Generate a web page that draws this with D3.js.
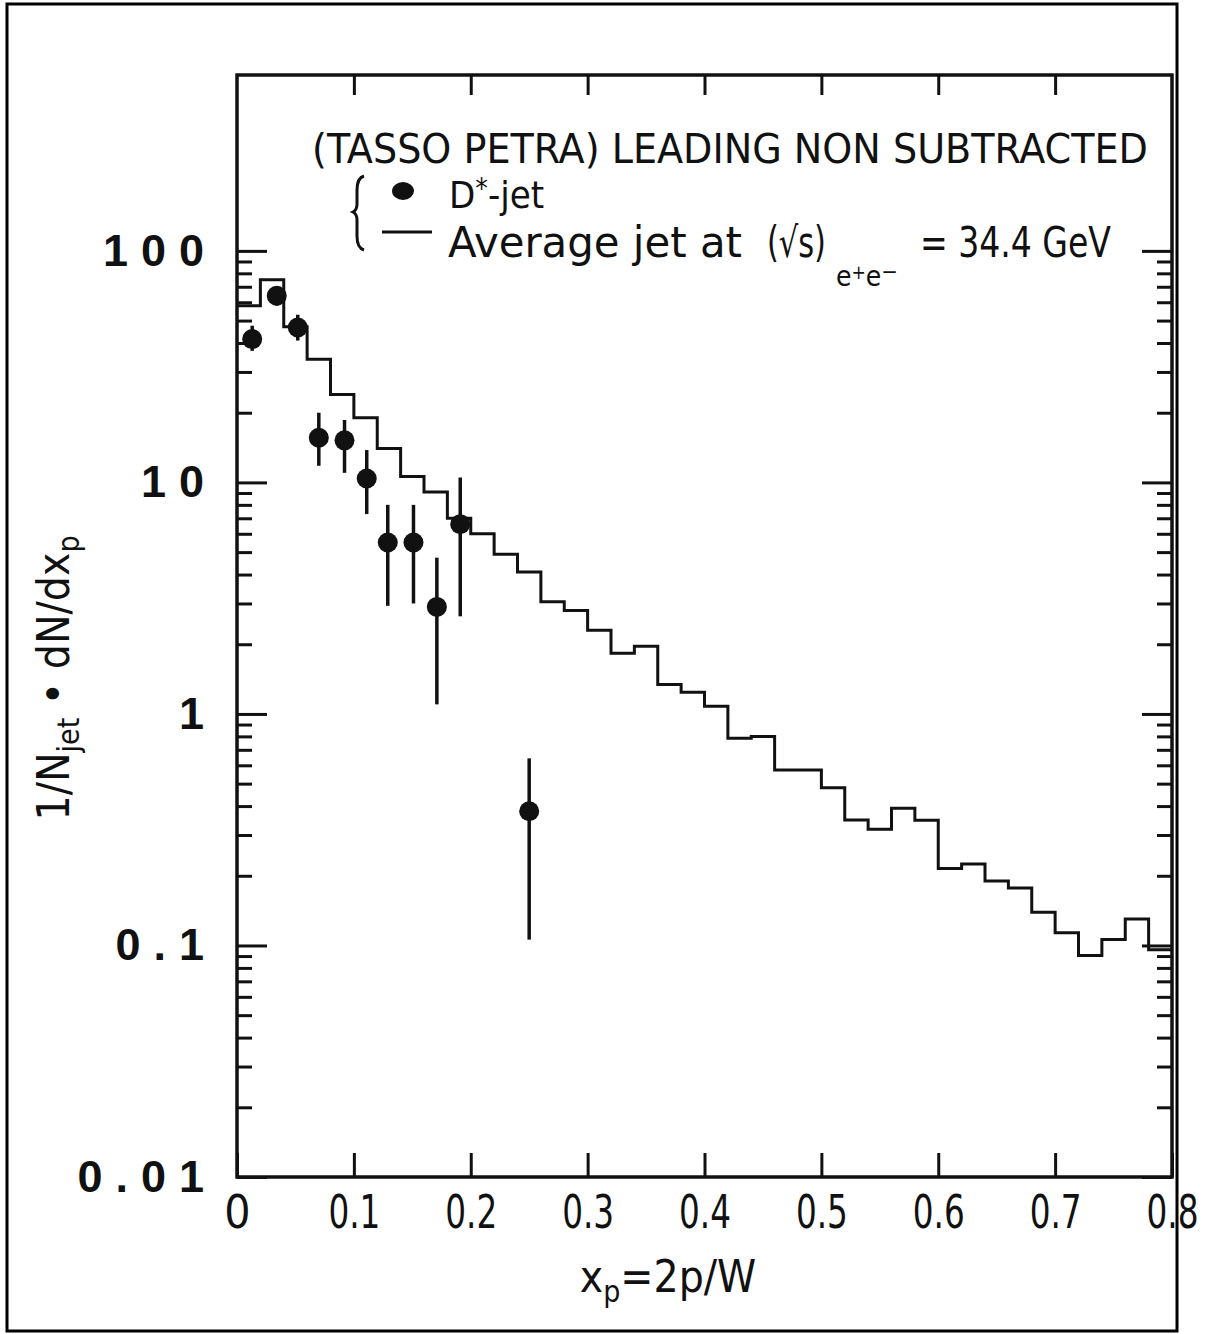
<!DOCTYPE html>
<html lang="en">
<head>
<meta charset="UTF-8">
<title>D* jet fragmentation (TASSO)</title>
<style>
  body { margin: 0; background: #fff; }
  text { fill: #111; }
</style>
</head>
<body>
<svg id="chart" width="1209" height="1334"></svg>
<script src="https://d3js.org/d3.v7.min.js"></script>
<script>
// average jet, histogram in bins of x_p
const binEdges = [0, 0.02, 0.04, 0.06, 0.08, 0.10, 0.12, 0.14, 0.16, 0.18,
                  0.20, 0.22, 0.24, 0.26, 0.28, 0.30, 0.32, 0.34, 0.36, 0.38,
                  0.40, 0.42, 0.44, 0.46, 0.48, 0.50, 0.52, 0.54, 0.56, 0.58,
                  0.60, 0.62, 0.64, 0.66, 0.68, 0.70, 0.72, 0.74, 0.76, 0.78, 0.80];
const avgJet = [58, 75, 47, 34, 24, 19, 14, 10.6, 9.1, 7.0,
                6.0, 4.9, 4.1, 3.05, 2.8, 2.3, 1.83, 1.96, 1.34, 1.24,
                1.08, 0.785, 0.80, 0.573, 0.573, 0.48, 0.348, 0.318, 0.391, 0.347,
                0.215, 0.225, 0.19, 0.177, 0.139, 0.1135, 0.0905, 0.106, 0.130, 0.0958];

// D*-jet points
const dstarX  = [0.013, 0.034, 0.052, 0.070, 0.092, 0.111, 0.129, 0.151, 0.171, 0.191, 0.250];
const dstarY  = [41.6, 64, 46.7, 15.6, 15.2, 10.4, 5.5, 5.5, 2.9, 6.6, 0.38];
const dstarLo = [37, 58, 41, 11.8, 11.0, 7.3, 2.93, 3.0, 1.1, 2.64, 0.106];
const dstarHi = [47.5, 70, 53, 20, 18.6, 13.8, 8.0, 8.0, 4.73, 10.5, 0.643];

// axes
const xTicks = [0, 0.1, 0.2, 0.3, 0.4, 0.5, 0.6, 0.7, 0.8];
const xTickLabels = ["0", "0.1", "0.2", "0.3", "0.4", "0.5", "0.6", "0.7", "0.8"];
const yMajor = [0.01, 0.1, 1, 10, 100];
const yMajorLabels = ["0.01", "0.1", "1", "10", "100"];

const svg = d3.select("#chart");
const pLeft = 237, pRight = 1172, pTop = 75, pBottom = 1177;
const condensed = "'DejaVu Sans Condensed', 'Liberation Sans Narrow', 'DejaVu Sans', sans-serif";

const x = d3.scaleLinear().domain([0, 0.8]).range([pLeft, pRight]);
const y = d3.scaleLog().domain([0.01, 575]).range([pBottom, pTop]);

// outer frame of the figure
svg.append("rect")
  .attr("x", 7).attr("y", 4).attr("width", 1170).attr("height", 1327)
  .attr("fill", "none").attr("stroke", "#000").attr("stroke-width", 3);

const yMinor = y.ticks().filter(d => d <= 100 && !yMajor.includes(d));
const xInner = xTicks.slice(1, -1);

function styleAxis(g) {
  g.select(".domain").remove();
  g.selectAll(".tick line").attr("stroke", "#111").attr("stroke-width", 3);
}

// left
svg.append("g").attr("transform", `translate(${pLeft},0)`)
  .call(d3.axisLeft(y).tickValues(yMinor).tickSizeInner(-15).tickSizeOuter(0).tickFormat(""))
  .call(styleAxis);
const yl = svg.append("g").attr("transform", `translate(${pLeft},0)`)
  .call(d3.axisLeft(y).tickValues(yMajor).tickSizeInner(-30).tickSizeOuter(0)
        .tickPadding(20).tickFormat((d, i) => yMajorLabels[i]))
  .call(styleAxis);
yl.selectAll("text")
  .attr("font-family", "'Liberation Sans', Arial, sans-serif")
  .attr("font-weight", "bold").attr("font-size", 45)
  .attr("letter-spacing", 13).attr("fill", "#111");

// right
svg.append("g").attr("transform", `translate(${pRight},0)`)
  .call(d3.axisRight(y).tickValues(yMinor).tickSizeInner(-15).tickSizeOuter(0).tickFormat(""))
  .call(styleAxis);
svg.append("g").attr("transform", `translate(${pRight},0)`)
  .call(d3.axisRight(y).tickValues(yMajor).tickSizeInner(-30).tickSizeOuter(0).tickFormat(""))
  .call(styleAxis);

// top
svg.append("g").attr("transform", `translate(0,${pTop})`)
  .call(d3.axisTop(x).tickValues(xInner).tickSizeInner(-20).tickSizeOuter(0).tickFormat(""))
  .call(styleAxis);

// bottom
const xb = svg.append("g").attr("transform", `translate(0,${pBottom})`)
  .call(d3.axisBottom(x).tickValues(xTicks).tickSizeInner(-24).tickSizeOuter(0)
        .tickPadding(18).tickFormat((d, i) => xTickLabels[i]))
  .call(styleAxis);
xb.selectAll("text")
  .attr("font-family", condensed).attr("font-size", 46).attr("fill", "#111")
  .filter((d, i) => xTickLabels[i].length > 1)
  .attr("textLength", 52).attr("lengthAdjust", "spacingAndGlyphs");

// plot frame
svg.append("rect")
  .attr("x", pLeft).attr("y", pTop).attr("width", pRight - pLeft).attr("height", pBottom - pTop)
  .attr("fill", "none").attr("stroke", "#111").attr("stroke-width", 3.5);

// histogram
const histPts = binEdges.map((e, i) => [e, avgJet[Math.min(i, avgJet.length - 1)]]);
svg.append("path")
  .datum(histPts)
  .attr("fill", "none").attr("stroke", "#111").attr("stroke-width", 3)
  .attr("d", d3.line().x(d => x(d[0])).y(d => y(d[1])).curve(d3.curveStepAfter));

// D* points
const pts = dstarX.map((v, i) => ({ x: v, y: dstarY[i], lo: dstarLo[i], hi: dstarHi[i] }));
svg.append("g").selectAll("line")
  .data(pts).join("line")
  .attr("x1", d => x(d.x)).attr("x2", d => x(d.x))
  .attr("y1", d => y(d.lo)).attr("y2", d => y(d.hi))
  .attr("stroke", "#111").attr("stroke-width", 3.5);
svg.append("g").selectAll("circle")
  .data(pts).join("circle")
  .attr("cx", d => x(d.x)).attr("cy", d => y(d.y)).attr("r", 10)
  .attr("fill", "#111");

// title and legend
svg.append("text")
  .attr("x", 312).attr("y", 163)
  .attr("font-family", condensed).attr("font-size", 41)
  .attr("textLength", 836).attr("lengthAdjust", "spacingAndGlyphs")
  .text("(TASSO PETRA) LEADING NON SUBTRACTED");

svg.append("path")
  .attr("d", "M364,176 Q357,178 357,190 L357,204 Q357,210 353,212 Q357,214 357,220 L357,236 Q357,248 364,250")
  .attr("fill", "none").attr("stroke", "#111").attr("stroke-width", 3);

svg.append("ellipse").attr("cx", 403).attr("cy", 191).attr("rx", 11).attr("ry", 9).attr("fill", "#111");
const dj = svg.append("text")
  .attr("x", 449).attr("y", 208)
  .attr("font-family", condensed).attr("font-size", 38);
dj.append("tspan").text("D");
dj.append("tspan").attr("dy", -10).attr("font-size", 28).text("*");
dj.append("tspan").attr("dy", 10).text("-jet");

svg.append("line").attr("x1", 382).attr("x2", 432).attr("y1", 232).attr("y2", 232)
  .attr("stroke", "#111").attr("stroke-width", 3);
svg.append("text")
  .attr("x", 448).attr("y", 257)
  .attr("font-family", condensed).attr("font-size", 42)
  .attr("textLength", 294).attr("lengthAdjust", "spacingAndGlyphs")
  .text("Average  jet  at");
svg.append("text")
  .attr("x", 767).attr("y", 257)
  .attr("font-family", condensed).attr("font-size", 42)
  .attr("textLength", 59).attr("lengthAdjust", "spacingAndGlyphs")
  .text("(√s)");
const sub = svg.append("text")
  .attr("x", 836).attr("y", 286)
  .attr("font-family", condensed).attr("font-size", 28);
sub.append("tspan").text("e");
sub.append("tspan").attr("dy", -7).attr("font-size", 19).text("+");
sub.append("tspan").attr("dy", 7).text("e");
sub.append("tspan").attr("dy", -7).attr("font-size", 22).text("−");
svg.append("text")
  .attr("x", 920).attr("y", 257)
  .attr("font-family", condensed).attr("font-size", 42)
  .attr("textLength", 191).attr("lengthAdjust", "spacingAndGlyphs")
  .text("= 34.4 GeV");

// axis titles
const xt = svg.append("text")
  .attr("x", 668).attr("y", 1292).attr("text-anchor", "middle")
  .attr("font-family", condensed).attr("font-size", 44);
xt.append("tspan").text("x");
xt.append("tspan").attr("dy", 10).attr("font-size", 30).text("p");
xt.append("tspan").attr("dy", -10).text("=2p/W");

const yt = svg.append("text")
  .attr("transform", "translate(69,678) rotate(-90)")
  .attr("text-anchor", "middle")
  .attr("font-family", condensed).attr("font-size", 44);
yt.append("tspan").text("1/N");
yt.append("tspan").attr("dy", 10).attr("font-size", 30).text("jet");
yt.append("tspan").attr("dy", -10).text(" • dN/dx");
yt.append("tspan").attr("dy", 10).attr("font-size", 30).text("p");
</script>
</body>
</html>
